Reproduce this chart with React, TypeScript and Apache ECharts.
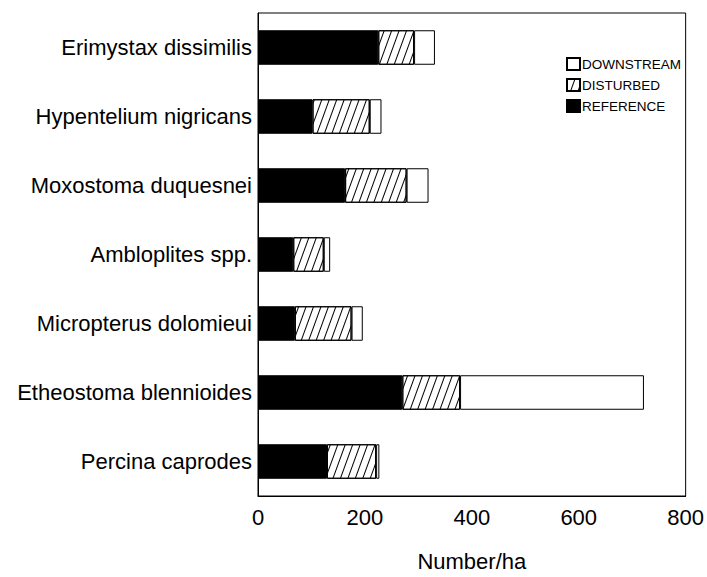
import React, { useEffect, useRef } from "react";
import * as echarts from "echarts";

const categories = [
  "Erimystax dissimilis",
  "Hypentelium nigricans",
  "Moxostoma duquesnei",
  "Ambloplites spp.",
  "Micropterus dolomieui",
  "Etheostoma blennioides",
  "Percina caprodes",
];
const reference = [225, 102, 163, 66, 69, 270, 129];
const disturbed = [67, 107, 115, 57, 106, 108, 92];
const downstream = [39, 22, 41, 12, 21, 344, 6];
const xTicks = [0, 200, 400, 600, 800];

const FONT = "Liberation Sans, Arial, Helvetica, sans-serif";

export default function App() {
  const ref = useRef<HTMLDivElement>(null);
  useEffect(() => {
    if (!ref.current) return;
    const chart = echarts.init(ref.current, null, { renderer: "svg" });
    const border = { borderColor: "#000", borderWidth: 1 };
    chart.setOption({
      animation: false,
      backgroundColor: "#fff",
      textStyle: { fontFamily: FONT },
      grid: {
        left: 258,
        right: 21,
        top: 13,
        bottom: 73,
        show: true,
        borderColor: "#000",
        borderWidth: 1,
        containLabel: false,
      },
      legend: {
        orient: "vertical",
        left: 561,
        top: 52,
        itemWidth: 13,
        itemHeight: 12,
        itemGap: 7,
        icon: "rect",
        data: ["DOWNSTREAM", "DISTURBED", "REFERENCE"],
        textStyle: { fontSize: 13.5, color: "#000", fontFamily: FONT, padding: [0, 0, 0, -3] },
      },
      xAxis: {
        type: "value",
        min: xTicks[0],
        max: xTicks[xTicks.length - 1],
        interval: 200,
        splitLine: { show: false },
        axisTick: { show: false },
        axisLine: { show: true, lineStyle: { color: "#000", width: 1 } },
        axisLabel: { color: "#000", fontSize: 22, margin: 10, fontFamily: FONT },
        name: "Number/ha",
        nameLocation: "middle",
        nameGap: 54,
        nameTextStyle: { color: "#000", fontSize: 22, fontFamily: FONT },
      },
      yAxis: {
        type: "category",
        data: categories,
        inverse: true,
        axisTick: { show: false },
        axisLine: { show: true, lineStyle: { color: "#000", width: 1 } },
        axisLabel: { color: "#000", fontSize: 22, margin: 6, fontFamily: FONT },
      },
      series: [
        {
          name: "REFERENCE",
          type: "bar",
          stack: "t",
          barWidth: "50%",
          data: reference,
          itemStyle: { color: "#000", ...border },
        },
        {
          name: "DISTURBED",
          type: "bar",
          stack: "t",
          barWidth: "50%",
          data: disturbed,
          itemStyle: {
            color: "#fff",
            ...border,
            decal: {
              symbol: "rect",
              color: "#000",
              backgroundColor: "#fff",
              dashArrayX: [1, 0],
              dashArrayY: [1, 6],
              rotation: -(70 * Math.PI) / 180,
            },
          },
        },
        {
          name: "DOWNSTREAM",
          type: "bar",
          stack: "t",
          barWidth: "50%",
          data: downstream,
          itemStyle: { color: "#fff", ...border },
        },
      ],
    });
    return () => chart.dispose();
  }, []);
  return (
    <div
      ref={ref}
      style={{ position: "fixed", left: 0, top: 0, width: 707, height: 577 }}
    />
  );
}
